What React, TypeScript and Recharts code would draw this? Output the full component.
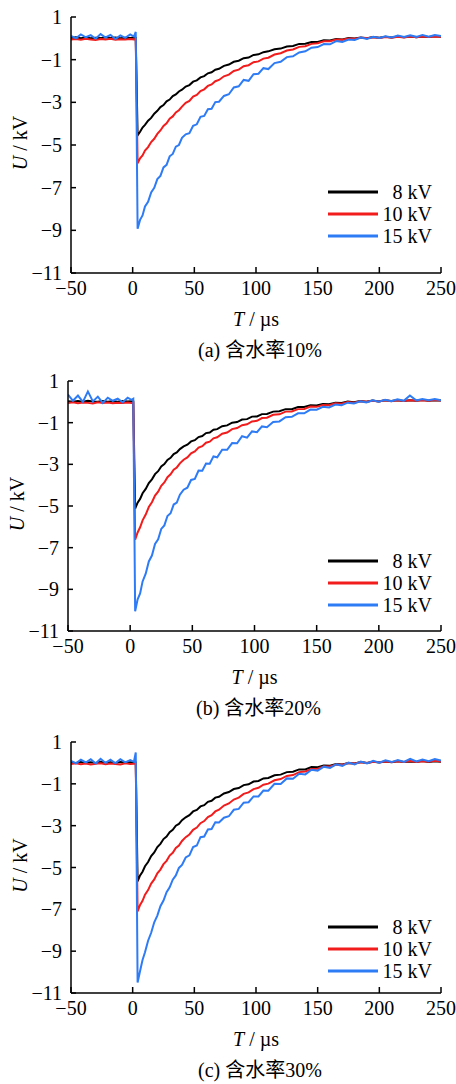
import { LineChart, Line, XAxis, YAxis, Legend } from "recharts";

// time axis (µs), shared by all three panels
const T = [
  -50, -46, -42, -38, -34, -30, -26, -22, -18, -14, -10, -6, -2, 1, 2.5,
  4, 6, 8, 10, 12.5, 15, 17.5, 20, 22.5, 25, 27.5, 30, 32.5, 35, 37.5, 40,
  43, 46, 49, 52, 55, 58, 61, 64, 67, 70,
  74, 78, 82, 86, 90, 94, 98, 102, 106, 110,
  115, 120, 125, 130, 135, 140, 145, 150, 155, 160, 165, 170, 175, 180, 185,
  190, 195, 200, 205, 210, 215, 220, 225, 230, 235, 240, 245, 250,
];

// (a) 含水率10%
const A8 = [
  0.02, 0.05, 0.01, 0.04, 0.0, 0.03, 0.01, 0.05, 0.02, 0.04, 0.0, 0.03, 0.02, 0.04, 0.02,
  -4.55, -4.38, -4.18, -4.06, -3.86, -3.73, -3.53, -3.4, -3.22, -3.13, -2.95, -2.87, -2.71, -2.63, -2.49, -2.41,
  -2.26, -2.19, -2.03, -1.97, -1.83, -1.77, -1.64, -1.59, -1.47, -1.43,
  -1.29, -1.23, -1.1, -1.05, -0.93, -0.9, -0.78, -0.75, -0.65, -0.61,
  -0.51, -0.48, -0.38, -0.36, -0.26, -0.25, -0.17, -0.17, -0.09, -0.1, -0.03, -0.05, 0.01, -0.01,
  0.04, 0.01, 0.06, 0.03, 0.07, 0.04, 0.08, 0.05, 0.09, 0.05, 0.08, 0.06, 0.1, 0.07,
];
const A10 = [
  -0.06, -0.03, -0.07, -0.02, -0.05, -0.08, -0.03, -0.06, -0.02, -0.07, -0.04, -0.06, -0.03, -0.05, -0.04,
  -5.86, -5.62, -5.49, -5.26, -5.1, -4.86, -4.71, -4.48, -4.32, -4.11, -3.98, -3.77, -3.66, -3.47, -3.37, -3.2,
  -3.02, -2.93, -2.73, -2.65, -2.47, -2.39, -2.23, -2.16, -2.01, -1.95,
  -1.78, -1.7, -1.53, -1.47, -1.31, -1.26, -1.12, -1.08, -0.95, -0.91,
  -0.76, -0.7, -0.57, -0.52, -0.4, -0.37, -0.26, -0.23, -0.14, -0.14, -0.06, -0.07, -0.01, -0.02,
  0.03, 0.01, 0.05, 0.02, 0.06, 0.03, 0.07, 0.04, 0.08, 0.05, 0.09, 0.06, 0.08, 0.07,
];
const A15 = [
  0.12, 0.0, 0.18, 0.05, 0.15, -0.02, 0.2, 0.04, 0.16, -0.03, 0.14, 0.02, 0.18, 0.08, 0.3,
  -8.92, -8.51, -8.3, -7.88, -7.66, -7.22, -7.01, -6.6, -6.45, -6.05, -5.93, -5.53, -5.42, -5.08, -5.0, -4.66,
  -4.5, -4.45, -4.1, -4.03, -3.68, -3.64, -3.32, -3.3, -2.99, -2.97,
  -2.7, -2.62, -2.3, -2.25, -1.95, -1.99, -1.68, -1.66, -1.4, -1.44,
  -1.16, -1.1, -0.88, -0.84, -0.66, -0.61, -0.44, -0.41, -0.27, -0.28, -0.13, -0.17, -0.06, -0.08,
  0.04, -0.03, 0.07, 0.02, 0.1, 0.04, 0.13, 0.06, 0.14, 0.07, 0.16, 0.08, 0.15, 0.11,
];

// (b) 含水率20%
const B8 = [
  0.03, 0.0, 0.04, 0.01, 0.05, 0.02, 0.0, 0.04, 0.01, 0.03, 0.0, 0.04, 0.02, 0.03, 0.02,
  -5.12, -4.84, -4.66, -4.39, -4.18, -3.9, -3.72, -3.47, -3.33, -3.1, -2.99, -2.79, -2.69, -2.51, -2.43, -2.27,
  -2.14, -2.06, -1.9, -1.84, -1.69, -1.64, -1.5, -1.47, -1.34, -1.31,
  -1.17, -1.13, -1.0, -0.97, -0.85, -0.83, -0.71, -0.7, -0.59, -0.58,
  -0.47, -0.45, -0.35, -0.35, -0.25, -0.25, -0.16, -0.18, -0.1, -0.11, -0.04, -0.06, 0.01, -0.02,
  0.04, 0.0, 0.06, 0.02, 0.07, 0.04, 0.08, 0.04, 0.07, 0.05, 0.09, 0.05, 0.08, 0.06,
];
const B10 = [
  -0.06, -0.02, -0.07, -0.03, -0.05, -0.08, -0.02, -0.06, -0.03, -0.07, -0.04, -0.05, -0.03, -0.06, -0.04,
  -6.62, -6.27, -6.02, -5.69, -5.41, -5.05, -4.82, -4.5, -4.31, -4.03, -3.87, -3.62, -3.48, -3.26, -3.15, -2.95,
  -2.78, -2.67, -2.47, -2.38, -2.2, -2.13, -1.96, -1.91, -1.75, -1.7,
  -1.53, -1.47, -1.31, -1.26, -1.12, -1.08, -0.94, -0.91, -0.78, -0.76,
  -0.62, -0.6, -0.47, -0.46, -0.35, -0.34, -0.23, -0.24, -0.15, -0.16, -0.07, -0.09, -0.01, -0.04,
  0.03, 0.0, 0.05, 0.02, 0.07, 0.03, 0.08, 0.04, 0.07, 0.05, 0.08, 0.05, 0.09, 0.06,
];
const B15 = [
  0.35, 0.05, 0.3, 0.0, 0.5, 0.02, 0.25, -0.05, 0.2, 0.05, 0.15, -0.02, 0.2, 0.1, 0.15,
  -10.05, -9.48, -9.2, -8.62, -8.25, -7.66, -7.38, -6.82, -6.6, -6.1, -5.93, -5.48, -5.35, -4.93, -4.84, -4.46,
  -4.22, -4.12, -3.75, -3.7, -3.3, -3.31, -2.96, -2.97, -2.62, -2.66,
  -2.3, -2.3, -1.98, -1.99, -1.65, -1.72, -1.42, -1.46, -1.18, -1.22,
  -0.97, -0.94, -0.74, -0.72, -0.55, -0.55, -0.37, -0.38, -0.24, -0.27, -0.13, -0.16, -0.04, -0.08,
  0.03, -0.03, 0.07, 0.01, 0.1, 0.03, 0.12, 0.05, 0.3, 0.07, 0.14, 0.08, 0.13, 0.07,
];

// (c) 含水率30%
const C8 = [
  0.02, 0.0, 0.04, 0.01, 0.03, 0.0, 0.05, 0.01, 0.03, 0.0, 0.04, 0.02, 0.03, 0.01, 0.02,
  -5.66, -5.38, -5.2, -4.94, -4.74, -4.45, -4.28, -4.02, -3.87, -3.64, -3.52, -3.31, -3.2, -3.0, -2.92, -2.74,
  -2.6, -2.5, -2.32, -2.25, -2.08, -2.02, -1.86, -1.81, -1.66, -1.62,
  -1.46, -1.39, -1.25, -1.2, -1.06, -1.02, -0.89, -0.86, -0.74, -0.72,
  -0.59, -0.56, -0.44, -0.42, -0.31, -0.31, -0.2, -0.21, -0.12, -0.13, -0.05, -0.07, 0.0, -0.03,
  0.04, 0.0, 0.06, 0.02, 0.07, 0.03, 0.08, 0.04, 0.07, 0.05, 0.09, 0.05, 0.08, 0.06,
];
const C10 = [
  -0.05, -0.02, -0.06, -0.03, -0.07, -0.04, -0.02, -0.06, -0.03, -0.05, -0.07, -0.02, -0.05, -0.04, -0.03,
  -7.1, -6.79, -6.59, -6.3, -6.08, -5.77, -5.57, -5.28, -5.1, -4.84, -4.68, -4.43, -4.3, -4.07, -3.95, -3.73,
  -3.55, -3.42, -3.2, -3.09, -2.88, -2.78, -2.59, -2.5, -2.32, -2.24,
  -2.04, -1.94, -1.75, -1.66, -1.48, -1.41, -1.25, -1.19, -1.04, -0.99,
  -0.83, -0.77, -0.62, -0.58, -0.44, -0.41, -0.29, -0.28, -0.17, -0.17, -0.08, -0.09, -0.01, -0.03,
  0.03, 0.0, 0.06, 0.03, 0.07, 0.04, 0.08, 0.05, 0.09, 0.05, 0.08, 0.06, 0.1, 0.07,
];
const C15 = [
  0.1, -0.02, 0.15, 0.02, 0.18, -0.03, 0.2, 0.0, 0.15, -0.02, 0.18, 0.03, 0.14, 0.05, 0.5,
  -10.5, -9.95, -9.42, -9.05, -8.5, -8.12, -7.62, -7.3, -6.85, -6.58, -6.18, -5.95, -5.58, -5.38, -5.02, -4.88,
  -4.52, -4.42, -4.02, -3.95, -3.55, -3.52, -3.18, -3.16, -2.84, -2.85,
  -2.62, -2.55, -2.24, -2.2, -1.9, -1.88, -1.6, -1.6, -1.32, -1.33,
  -1.0, -1.01, -0.74, -0.76, -0.52, -0.55, -0.33, -0.37, -0.18, -0.24, -0.07, -0.14, 0.02, -0.07,
  0.07, -0.02, 0.1, 0.01, 0.12, 0.04, 0.14, 0.05, 0.2, 0.07, 0.16, 0.08, 0.18, 0.11,
];

const X_TICKS = [-50, 0, 50, 100, 150, 200, 250];
const Y_TICKS = [1, -1, -3, -5, -7, -9, -11];

const SERIES = [
  { key: "v8", name: "8 kV", color: "#000000" },
  { key: "v10", name: "10 kV", color: "#f21c1c" },
  { key: "v15", name: "15 kV", color: "#2e7bf6" },
];

const FONT = '"Liberation Serif", "Times New Roman", "Noto Sans CJK SC", serif';

const fmt = (v: number) => (v < 0 ? "\u2212" + Math.abs(v) : String(v));

function rows(v8: number[], v10: number[], v15: number[]) {
  return T.map((t, i) => ({ t, v8: v8[i], v10: v10[i], v15: v15[i] }));
}

function LegendBox({ payload }: any) {
  // keep the series order (recharts sorts legend items by name otherwise)
  const items = SERIES.map((s) => (payload ?? []).find((p: any) => p.value === s.name)).filter(Boolean);
  return (
    <div style={{ fontFamily: FONT, fontSize: 20, color: "#000" }}>
      {items.map((e: any) => (
        <div key={e.value} style={{ display: "flex", alignItems: "center", height: 22 }}>
          <svg width={50} height={6} style={{ display: "block" }}>
            <line x1={0} y1={3} x2={50} y2={3} stroke={e.color} strokeWidth={3} />
          </svg>
          <span style={{ flex: 1, textAlign: "right", lineHeight: "22px" }}>{e.value}</span>
        </div>
      ))}
    </div>
  );
}

function YTitle({ viewBox }: any) {
  const cx = viewBox.x - 1;
  const cy = viewBox.y + viewBox.height / 2 - 2;
  return (
    <text
      x={cx}
      y={cy}
      transform={`rotate(-90 ${cx} ${cy})`}
      textAnchor="middle"
      dominantBaseline="central"
      fontFamily={FONT}
      fontSize={20}
      fill="#000"
    >
      <tspan fontStyle="italic">U</tspan> / kV
    </text>
  );
}

function XTitle({ viewBox, caption }: any) {
  const cx = viewBox.x + viewBox.width / 2;
  const y0 = viewBox.y;
  return (
    <g fontFamily={FONT} fontSize={20} fill="#000">
      <text x={cx} y={y0 + 53} textAnchor="middle">
        <tspan fontStyle="italic">T</tspan> / µs
      </text>
      <text x={cx + 4} y={y0 + 84} textAnchor="middle">
        {caption}
      </text>
    </g>
  );
}

const axisLine = { stroke: "#000", strokeWidth: 1.5 };
const tickStyle = { fill: "#000", fontSize: 20, fontFamily: FONT };

function Panel({ top, data, caption, left, plotTop, plotBottom, legendTop }: any) {
  const H = 364;
  return (
    <div style={{ position: "absolute", left: 0, top }}>
      <LineChart
        width={456}
        height={H}
        data={data}
        margin={{ top: plotTop, right: 15, bottom: H - plotBottom - 30, left: left - 50 }}
      >
        <XAxis
          type="number"
          dataKey="t"
          domain={[-50, 250]}
          ticks={X_TICKS}
          interval={0}
          allowDataOverflow
          height={30}
          tickFormatter={fmt}
          tickSize={-6}
          tickMargin={14}
          axisLine={axisLine}
          tickLine={axisLine}
          tick={tickStyle}
          label={(p: any) => <XTitle viewBox={p.viewBox} caption={caption} />}
        />
        <YAxis
          type="number"
          domain={[-11, 1]}
          ticks={Y_TICKS}
          interval={0}
          allowDataOverflow
          width={50}
          tickFormatter={fmt}
          tickSize={-5}
          tickMargin={14}
          axisLine={axisLine}
          tickLine={axisLine}
          tick={tickStyle}
          label={(p: any) => <YTitle viewBox={p.viewBox} />}
        />
        <Legend
          layout="vertical"
          align="center"
          verticalAlign="middle"
          wrapperStyle={{ left: 328, top: legendTop, width: 104 }}
          content={(p: any) => <LegendBox payload={p.payload} />}
        />
        {SERIES.map((s) => (
          <Line
            key={s.key}
            type="linear"
            dataKey={s.key}
            name={s.name}
            stroke={s.color}
            strokeWidth={2}
            dot={false}
            isAnimationActive={false}
          />
        ))}
      </LineChart>
    </div>
  );
}

export default function App() {
  return (
    <div style={{ position: "absolute", left: 0, top: 0, width: 456, height: 1084, background: "#fff" }}>
      <Panel top={0} data={rows(A8, A10, A15)} caption="(a) 含水率10%" left={71} plotTop={17} plotBottom={273} legendTop={181} />
      <Panel top={360} data={rows(B8, B10, B15)} caption="(b) 含水率20%" left={68} plotTop={21} plotBottom={271} legendTop={190} />
      <Panel top={720} data={rows(C8, C10, C15)} caption="(c) 含水率30%" left={71} plotTop={22} plotBottom={273} legendTop={196} />
    </div>
  );
}
